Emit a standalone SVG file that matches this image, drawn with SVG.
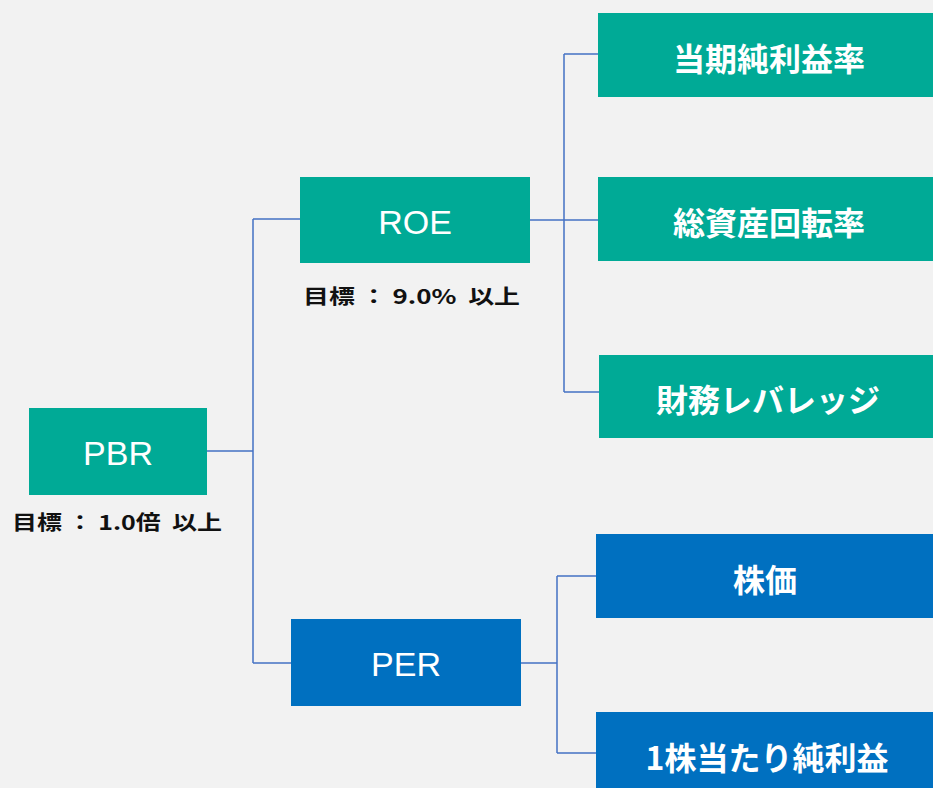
<svg xmlns="http://www.w3.org/2000/svg" width="933" height="788" viewBox="0 0 933 788">
<style>
.bg{fill:#f2f2f2}
.teal{fill:#00aa96}
.blue{fill:#0070c0}
.lat{font-family:"Liberation Sans","Noto Sans",sans-serif;font-size:34px;fill:#fff;text-anchor:middle;dominant-baseline:central}
.jp{font-family:"Noto Sans CJK JP",sans-serif;font-size:32px;font-weight:bold;fill:#fff;text-anchor:middle;dominant-baseline:central}
.lbl{font-family:"Noto Sans CJK JP",sans-serif;font-size:20px;font-weight:bold;fill:#111;dominant-baseline:central}
.con{fill:none;stroke:#4472c4;stroke-width:1.5}
</style>
<rect class="bg" x="0" y="0" width="933" height="788"/>
<g id="connectors">
<path class="con" d="M207,451 H253 M253,219 V663 M253,219 H300 M253,663 H291"/>
<path class="con" d="M530,220 H598 M564,54 V392 M564,54 H598 M564,392 H599"/>
<path class="con" d="M521,663 H557 M557,576 V753 M557,576 H596 M557,753 H596"/>
</g>
<g id="pbr">
<rect class="teal" x="29" y="408" width="178" height="87"/>
<text class="lat" x="118" y="453">PBR</text>
<text class="lbl" x="12" y="521" textLength="210" lengthAdjust="spacingAndGlyphs" xml:space="preserve">目標 ： 1.0倍  以上</text>
</g>
<g id="roe">
<rect class="teal" x="300" y="177" width="230" height="86"/>
<text class="lat" x="415" y="222">ROE</text>
<text class="lbl" x="303" y="295" textLength="217" lengthAdjust="spacingAndGlyphs" xml:space="preserve">目標 ： 9.0%  以上</text>
</g>
<g id="per">
<rect class="blue" x="291" y="619" width="230" height="87"/>
<text class="lat" x="406" y="664">PER</text>
</g>
<g id="n1">
<rect class="teal" x="598" y="13" width="335" height="84"/>
<text class="jp" x="769" y="57">当期純利益率</text>
</g>
<g id="n2">
<rect class="teal" x="598" y="177" width="335" height="84"/>
<text class="jp" x="769" y="221">総資産回転率</text>
</g>
<g id="n3">
<rect class="teal" x="599" y="355" width="334" height="83"/>
<text class="jp" x="768" y="398">財務レバレッジ</text>
</g>
<g id="n4">
<rect class="blue" x="596" y="534" width="337" height="84"/>
<text class="jp" x="765" y="578">株価</text>
</g>
<g id="n5">
<rect class="blue" x="596" y="712" width="337" height="76"/>
<text class="jp" x="767" y="756">1株当たり純利益</text>
</g>
</svg>
